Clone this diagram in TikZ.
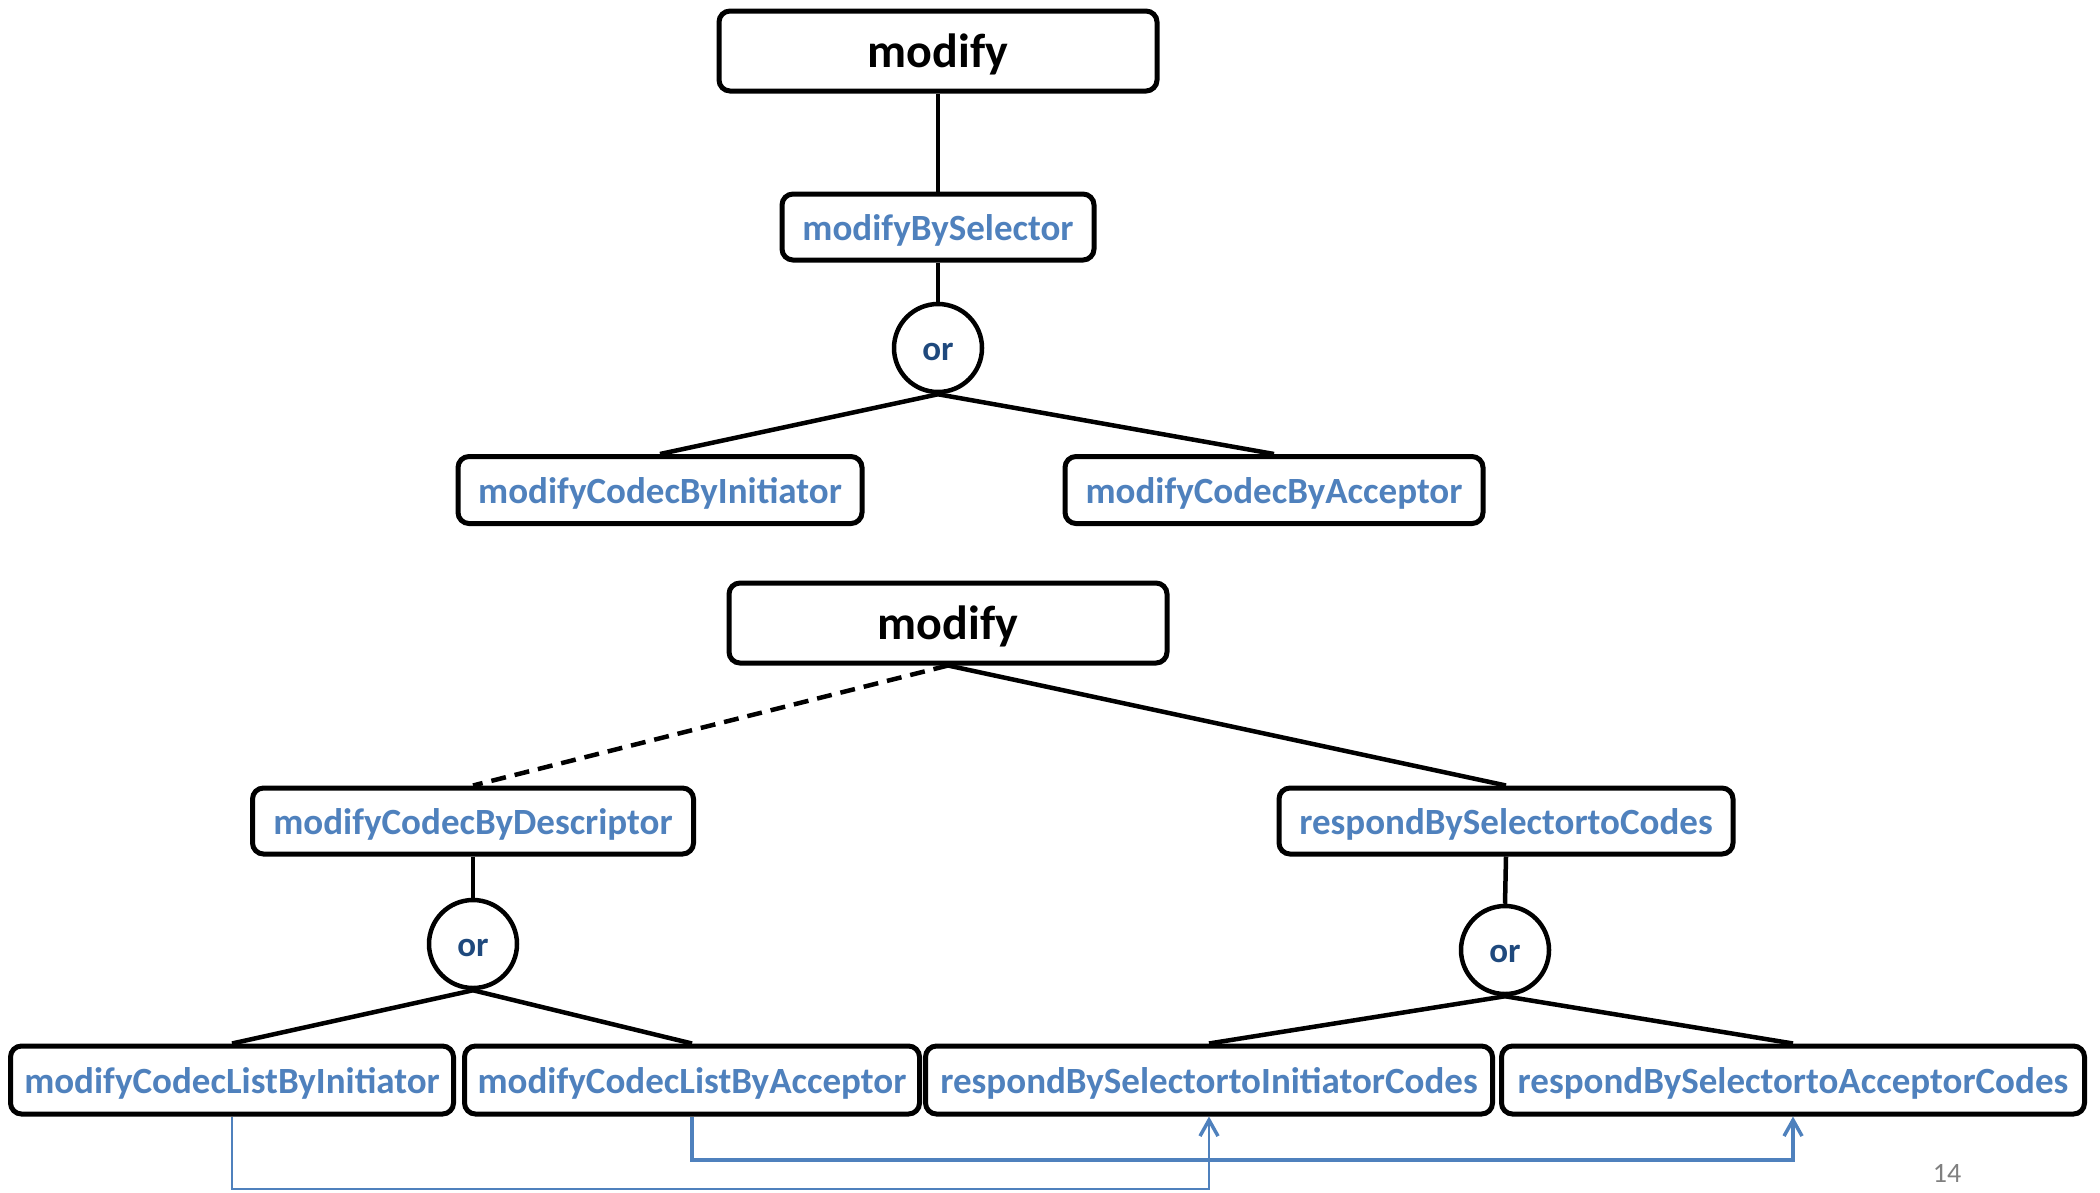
\documentclass[tikz,border=0pt]{standalone}
\usepackage{fontspec}
\setmainfont{Carlito}
\usetikzlibrary{arrows.meta}
\definecolor{accent}{HTML}{4F81BD}
\definecolor{darkaccent}{HTML}{1F497D}
\tikzset{
  box/.style={draw=black, line width=5pt, rounded corners=11pt, fill=white,
    inner sep=0pt, font=\bfseries\fontsize{37}{42}\selectfont, text=accent,
    text height=34pt, text depth=8pt},
  rootbox/.style={box, font=\bfseries\fontsize{48}{54}\selectfont, text=black,
    text height=42pt, text depth=10pt,
    minimum width=438pt, minimum height=80pt},
  orbox/.style={draw=black, line width=4.5pt, circle, minimum size=88pt, inner sep=0pt,
    fill=white, text=darkaccent, font=\bfseries\fontsize{35}{40}\selectfont,
    text height=25pt, text depth=0pt},
  link/.style={draw=black, line width=4.5pt},
  optlink/.style={link, dashed, dash pattern=on 15pt off 9pt},
  ref/.style={draw=accent, -{Straight Barb[length=16pt,width=18pt,line width=3.5pt]}},
}
\begin{document}
\begin{tikzpicture}[x=1pt,y=-1pt]
\useasboundingbox (0,0) rectangle (2100,1192);

% upper tree
\node[rootbox] (modA) at (938,51) {modify};
\node[box, minimum width=312pt, minimum height=66pt] (msel) at (938,227) {modifyBySelector};
\node[orbox] (orA) at (938,348) {or};
\node[box, minimum width=404pt, minimum height=67pt] (mci) at (660,490) {modifyCodecByInitiator};
\node[box, minimum width=418pt, minimum height=67pt] (mca) at (1274,490) {modifyCodecByAcceptor};

\draw[link] (modA.south) -- (msel.north);
\draw[link] (msel.south) -- (orA.north);
\draw[link] (orA.south) -- (mci.north);
\draw[link] (orA.south) -- (mca.north);

% lower tree
\node[rootbox] (modB) at (948,623) {modify};
\node[box, minimum width=441pt, minimum height=66pt] (mcd) at (473,821) {modifyCodecByDescriptor};
\node[box, minimum width=454pt, minimum height=66pt] (rsc) at (1506,821) {respondBySelectortoCodes};
\node[orbox] (orB) at (473,944) {or};
\node[orbox] (orC) at (1505,950) {or};
\node[box, minimum width=443pt, minimum height=68pt] (mli) at (232,1080) {modifyCodecListByInitiator};
\node[box, minimum width=455pt, minimum height=68pt] (mla) at (692,1080) {modifyCodecListByAcceptor};
\node[box, minimum width=567pt, minimum height=68pt] (rsi) at (1209,1080) {respondBySelectortoInitiatorCodes};
\node[box, minimum width=583pt, minimum height=68pt] (rsa) at (1793,1080) {respondBySelectortoAcceptorCodes};

\draw[optlink] (modB.south) -- (mcd.north);
\draw[link] (modB.south) -- (rsc.north);
\draw[link] (mcd.south) -- (orB.north);
\draw[link] (rsc.south) -- (orC.north);
\draw[link] (orB.south) -- (mli.north);
\draw[link] (orB.south) -- (mla.north);
\draw[link] (orC.south) -- (rsi.north);
\draw[link] (orC.south) -- (rsa.north);

% cross references between the leaves
\coordinate (lowA) at (0,1189);
\coordinate (lowB) at (0,1160);
\draw[ref, line width=2.5pt] (mli.south) -- (mli.south |- lowA) -| (rsi.south);
\draw[ref, line width=4pt] (mla.south) -- (mla.south |- lowB) -| (rsa.south);

% page number
\node[text=gray, font=\fontsize{28}{32}\selectfont] (pg) at (1947,1173) {14};
\end{tikzpicture}
\end{document}
